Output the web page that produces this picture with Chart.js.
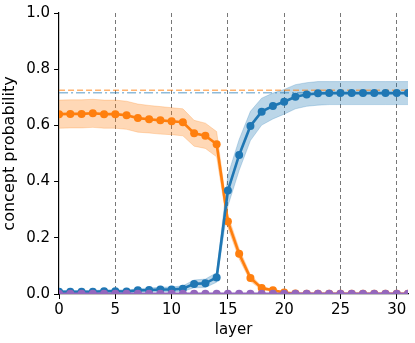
<!DOCTYPE html>
<html>
<head>
<meta charset="utf-8">
<script src="https://cdn.jsdelivr.net/npm/chart.js@4"></script>
<style>
  html, body { margin: 0; padding: 0; background: #fff; }
  #wrap { width: 415px; height: 343px; }
</style>
</head>
<body>
<div id="wrap"><canvas id="myChart" width="415" height="343"></canvas></div>
<script>
// layers 0..31
const layers = [0,1,2,3,4,5,6,7,8,9,10,11,12,13,14,15,16,17,18,19,20,21,22,23,24,25,26,27,28,29,30,31];

// blue concept
const blueMean = [0.008,0.008,0.008,0.008,0.010,0.010,0.009,0.013,0.014,0.016,0.016,0.019,0.036,0.038,0.059,0.368,0.495,0.598,0.649,0.669,0.684,0.702,0.710,0.714,0.715,0.715,0.715,0.715,0.715,0.715,0.715,0.715];
const blueErr  = [0.004,0.004,0.004,0.004,0.005,0.005,0.005,0.006,0.007,0.008,0.009,0.010,0.014,0.015,0.017,0.055,0.055,0.052,0.048,0.046,0.044,0.043,0.042,0.042,0.041,0.041,0.041,0.041,0.041,0.041,0.041,0.041];

// orange concept
const orangeMean = [0.640,0.641,0.641,0.643,0.640,0.640,0.636,0.626,0.622,0.618,0.615,0.611,0.572,0.563,0.533,0.258,0.143,0.057,0.021,0.013,0.005,0.002,0.001,0.001,0.001,0.001,0.001,0.001,0.001,0.001,0.001,0.001];
const orangeErr  = [0.050,0.050,0.050,0.050,0.050,0.050,0.050,0.050,0.049,0.049,0.048,0.048,0.046,0.045,0.045,0.022,0.018,0.012,0.006,0.004,0.002,0.001,0.001,0.001,0.001,0.001,0.001,0.001,0.001,0.001,0.001,0.001];

// purple concept
const purpleMean = [0.001,0.001,0.001,0.001,0.001,0.001,0.001,0.001,0.001,0.001,0.001,0.001,0.001,0.001,0.001,0.001,0.001,0.001,0.001,0.001,0.001,0.001,0.001,0.001,0.001,0.001,0.001,0.001,0.001,0.001,0.001,0.001];

// reference levels
const orangeRef = 0.725;
const blueRef = 0.716;

const xTicks = [0,5,10,15,20,25,30];
const yTicks = [0.0,0.2,0.4,0.6,0.8,1.0];

const BLUE = '#1f77b4', ORANGE = '#ff7f0e', PURPLE = '#9467bd';

const pts = arr => arr.map((v, i) => ({x: layers[i], y: v}));
const upper = (m, e) => m.map((v, i) => v + e[i]);
const lower = (m, e) => m.map((v, i) => Math.max(0, v - e[i]));
const flat = v => layers.map(x => ({x, y: v}));

const lineDs = (data, color) => ({
  data: pts(data),
  borderColor: color,
  backgroundColor: color,
  borderWidth: 2.6,
  pointRadius: 4,
  pointHoverRadius: 4,
  pointBorderWidth: 0,
  fill: false,
  tension: 0
});

const bandDs = (data, color, fillTo) => ({
  data: pts(data),
  borderColor: color,
  borderWidth: 0.8,
  backgroundColor: color,
  pointRadius: 0,
  fill: fillTo,
  tension: 0
});

const ctx = document.getElementById('myChart');

new Chart(ctx, {
  type: 'line',
  data: {
    datasets: [
      Object.assign(lineDs(purpleMean, PURPLE), {clip: {left: 0, right: 0, top: 0, bottom: 0}}),
      lineDs(blueMean, BLUE),
      lineDs(orangeMean, ORANGE),
      { data: flat(orangeRef), borderColor: 'rgba(255,127,14,0.6)', borderWidth: 1.6, borderDash: [6, 3], pointRadius: 0, fill: false },
      { data: flat(blueRef), borderColor: 'rgba(31,119,180,0.5)', borderWidth: 1.6, borderDash: [9, 3, 2, 3], pointRadius: 0, fill: false },
      bandDs(upper(blueMean, blueErr), 'rgba(31,119,180,0.3)', '+1'),
      bandDs(lower(blueMean, blueErr), 'rgba(31,119,180,0.3)', false),
      bandDs(upper(orangeMean, orangeErr), 'rgba(255,127,14,0.3)', '+1'),
      bandDs(lower(orangeMean, orangeErr), 'rgba(255,127,14,0.3)', false)
    ]
  },
  options: {
    responsive: false,
    animation: false,
    layout: { padding: { top: 9, right: 7, left: 0, bottom: 4 } },
    scales: {
      x: {
        type: 'linear',
        min: 0,
        max: 31,
        afterBuildTicks: axis => { axis.ticks = xTicks.map(v => ({value: v})); },
        ticks: { color: '#000', font: { family: 'DejaVu Sans', size: 15 }, padding: 2, maxRotation: 0 },
        grid: {
          color: c => (c.tick && c.tick.value === 0) ? 'rgba(0,0,0,0)' : '#777',
          lineWidth: 1,
          drawTicks: true,
          tickLength: 5,
          tickColor: '#000',
          tickBorderDash: []
        },
        border: { display: true, color: '#000', width: 1.2, dash: [4, 3] },
        title: { display: true, text: 'layer', color: '#000', font: { family: 'DejaVu Sans', size: 15 }, padding: { top: 0, bottom: 0 } }
      },
      y: {
        min: 0,
        max: 1,
        afterBuildTicks: axis => { axis.ticks = yTicks.map(v => ({value: v})); },
        ticks: { color: '#000', font: { family: 'DejaVu Sans', size: 15 }, padding: 4, callback: v => v.toFixed(1) },
        grid: { drawOnChartArea: false, drawTicks: true, tickLength: 5, tickColor: '#000' },
        border: { display: true, color: '#000', width: 1.2 },
        title: { display: true, text: 'concept probability', color: '#000', font: { family: 'DejaVu Sans', size: 16 }, padding: { top: 0, bottom: 3 } }
      }
    },
    plugins: {
      legend: { display: false },
      tooltip: { enabled: false }
    }
  }
});
</script>
</body>
</html>
